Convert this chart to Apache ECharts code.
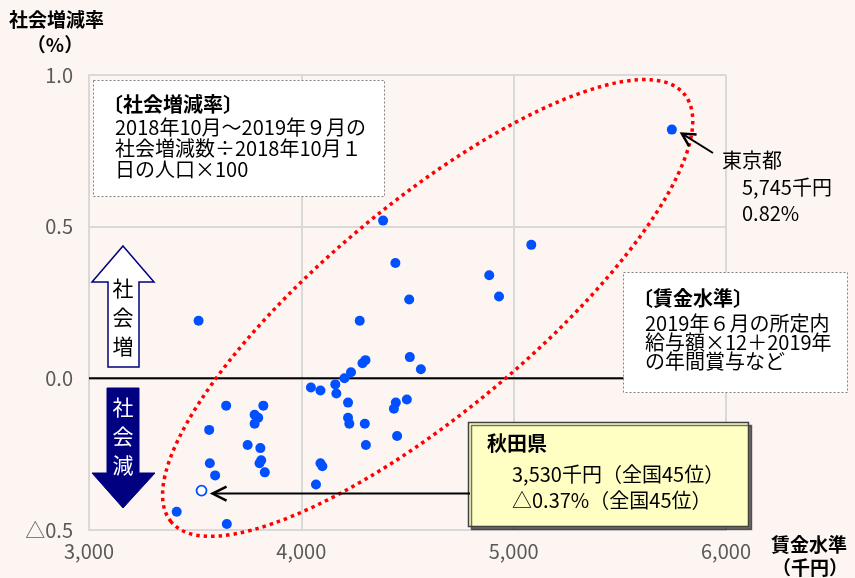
<!DOCTYPE html>
<html><head><meta charset="utf-8">
<script src="https://cdn.jsdelivr.net/npm/echarts@6/dist/echarts.min.js"></script>
<style>html,body{margin:0;padding:0;background:#fdf5f2}#c{width:855px;height:578px}</style>
</head><body><div id="c"></div>
<script>
// ---- data ----
const prefWages = [5745,4385,4443,4508,4275,3516,4885,4931,5083,4511,4563,4302,4288,4234,4203,4160,4165,4045,4090,4220,4220,4226,4299,4304,4445,4436,4497,4451,4090,4099,4069,3646,3821,3780,3797,3780,3566,3747,3807,3811,3803,3828,3569,3594,3413,3649];
const prefRates = [0.82,0.52,0.38,0.26,0.19,0.19,0.34,0.27,0.44,0.07,0.03,0.06,0.05,0.02,0.00,-0.02,-0.05,-0.03,-0.04,-0.08,-0.13,-0.15,-0.15,-0.22,-0.08,-0.10,-0.07,-0.19,-0.28,-0.29,-0.35,-0.09,-0.09,-0.12,-0.13,-0.15,-0.17,-0.22,-0.23,-0.27,-0.28,-0.31,-0.28,-0.32,-0.44,-0.48];
const akitaWage = 3530, akitaRate = -0.37, akitaRank = 45;
const tokyoWage = 5745, tokyoRate = 0.82;
const xTickValues = [3000,4000,5000,6000];
const xTickLabels = ['3,000','4,000','5,000','6,000'];
const yTickValues = [-0.5,0,0.5,1.0];
const yTickLabels = ['△0.5','0.0','0.5','1.0'];

const FONT = '"Noto Sans CJK JP","Noto Sans",sans-serif';
const chart = echarts.init(document.getElementById('c'));
const fmtComma = v => v.toLocaleString('en-US');

chart.setOption({
  backgroundColor:'#fdf5f2',
  animation:false,
  grid:{left:89,right:129,top:75,bottom:48},
  xAxis:{type:'value',min:3000,max:6000,interval:1000,
    axisLine:{show:true,onZero:false,lineStyle:{color:'#d9d9d9',width:2}},
    axisTick:{show:false},
    splitLine:{show:true,lineStyle:{color:'#d9d9d9',width:2}},
    axisLabel:{color:'#595959',fontSize:20,fontFamily:FONT,margin:11,
      formatter:v=>{const i=xTickValues.indexOf(v);return i>=0?xTickLabels[i]:'';}}},
  yAxis:{type:'value',min:-0.5,max:1.0,interval:0.5,
    axisLine:{show:true,onZero:false,lineStyle:{color:'#d9d9d9',width:2}},
    axisTick:{show:false},
    splitLine:{show:true,lineStyle:{color:'#d9d9d9',width:2}},
    axisLabel:{color:'#595959',fontSize:20,fontFamily:FONT,margin:16,
      formatter:v=>{const i=yTickValues.findIndex(t=>Math.abs(t-v)<1e-9);return i>=0?yTickLabels[i]:'';}}},
  series:[
    {type:'line',silent:true,symbol:'none',z:1,data:[[3000,0],[6000,0]],lineStyle:{color:'#000',width:2}},
    {type:'scatter',z:3,symbolSize:10,itemStyle:{color:'#0050ff',opacity:1},
      data:prefWages.map((w,i)=>[w,prefRates[i]])},
    {type:'scatter',z:4,symbolSize:10,itemStyle:{color:'#fff',borderColor:'#0050ff',borderWidth:1.8,opacity:1},
      data:[[akitaWage,akitaRate]]}
  ]
});

function txt(x,y,text,opt){
  opt=opt||{};
  return {type:'text',x:x,y:y,z:opt.z||120,style:{text:text,fill:opt.fill||'#000',
    font:(opt.bold?'bold ':'')+(opt.size||20)+'px '+FONT,
    textAlign:opt.align||'left',textVerticalAlign:'middle',align:opt.align||'left',verticalAlign:'middle',
    lineHeight:opt.lh}};
}
function arrow(tip,tail,len,half){
  const dx=tail[0]-tip[0],dy=tail[1]-tip[1],L=Math.hypot(dx,dy),ux=dx/L,uy=dy/L,px=-uy,py=ux;
  return [
    {type:'line',z:130,shape:{x1:tail[0],y1:tail[1],x2:tip[0]+ux*2,y2:tip[1]+uy*2},style:{stroke:'#000',lineWidth:2}},
    {type:'polyline',z:130,shape:{points:[[tip[0]+ux*len+px*half,tip[1]+uy*len+py*half],[tip[0],tip[1]],[tip[0]+ux*len-px*half,tip[1]+uy*len-py*half]]},
      style:{stroke:'#000',lineWidth:2.5,fill:null}}
  ];
}

const tk = chart.convertToPixel({gridIndex:0},[tokyoWage,tokyoRate]);
const ak = chart.convertToPixel({gridIndex:0},[akitaWage,akitaRate]);
const ec = chart.convertToPixel({gridIndex:0},[4595,0.232]);

const g = [];
// axis titles
g.push(txt(9,20,'社会増減率',{bold:true,size:19}));
g.push(txt(55,45,'（%）',{bold:true,size:19,align:'center'}));
g.push(txt(809,545,'賃金水準',{bold:true,size:19,align:'center'}));
g.push(txt(810,568,'（千円）',{bold:true,size:19,align:'center'}));
// definition box 1
g.push({type:'rect',z:110,shape:{x:93.5,y:80.5,width:291,height:116},style:{fill:'#fff',stroke:'#808080',lineWidth:1,lineDash:[2,2]}});
g.push(txt(103,104,'〔社会増減率〕',{bold:true}));
g.push(txt(115,127,'2018年10月～2019年９月の'));
g.push(txt(115,148,'社会増減数÷2018年10月１'));
g.push(txt(115,169,'日の人口×100'));
// definition box 2
g.push({type:'rect',z:110,shape:{x:623.5,y:272.5,width:224,height:120},style:{fill:'#fff',stroke:'#808080',lineWidth:1,lineDash:[2,2]}});
g.push(txt(633,298,'〔賃金水準〕',{bold:true}));
g.push(txt(645,323,'2019年６月の所定内'));
g.push(txt(645,342,'給与額×12＋2019年'));
g.push(txt(645,361,'の年間賞与など'));
// up / down arrows
g.push({type:'polygon',z:110,shape:{points:[[123,246],[154,282],[139,282],[139,367],[108,367],[108,282],[92,282]]},style:{fill:'#fff',stroke:'#000080',lineWidth:1.5}});
g.push(txt(123,317,'社\n会\n増',{align:'center',size:21,lh:29}));
g.push({type:'polygon',z:110,shape:{points:[[107,388],[139,388],[139,473],[155,473],[123,508],[92,473],[107,473]]},style:{fill:'#000080',stroke:'#000080',lineWidth:1}});
g.push(txt(123,436,'社\n会\n減',{align:'center',size:21,lh:29,fill:'#fff'}));
// red dotted ellipse
g.push({type:'ellipse',z:100,x:ec[0],y:ec[1],rotation:0.695,shape:{cx:0,cy:0,rx:334,ry:104},
  style:{fill:'rgba(0,0,0,0)',stroke:'#ff0000',lineWidth:3.5,lineDash:[3.5,4]}});
// Tokyo annotation
arrow([tk[0]+10,tk[1]+4],[713,153],13,7).forEach(e=>g.push(e));
g.push(txt(722,160,'東京都'));
g.push(txt(742,187,fmtComma(tokyoWage)+'千円'));
g.push(txt(742,213,tokyoRate.toFixed(2)+'%'));
// Akita annotation
arrow([ak[0]+11,ak[1]+3],[470,ak[1]+3],14,7).forEach(e=>g.push(e));
g.push({type:'rect',z:125,shape:{x:468.5,y:422.5,width:280,height:104},style:{fill:'#ffffc4',stroke:'#404040',lineWidth:1.5,shadowColor:'rgba(0,0,0,0.55)',shadowOffsetX:3,shadowOffsetY:3,shadowBlur:0}});
g.push(txt(487,443,'秋田県',{bold:true,z:130}));
g.push(txt(512,474,fmtComma(akitaWage)+'千円（全国'+akitaRank+'位）',{z:130}));
g.push(txt(512,500,'△'+Math.abs(akitaRate).toFixed(2)+'%（全国'+akitaRank+'位）',{z:130}));

chart.setOption({graphic:{elements:g}});
</script></body></html>
